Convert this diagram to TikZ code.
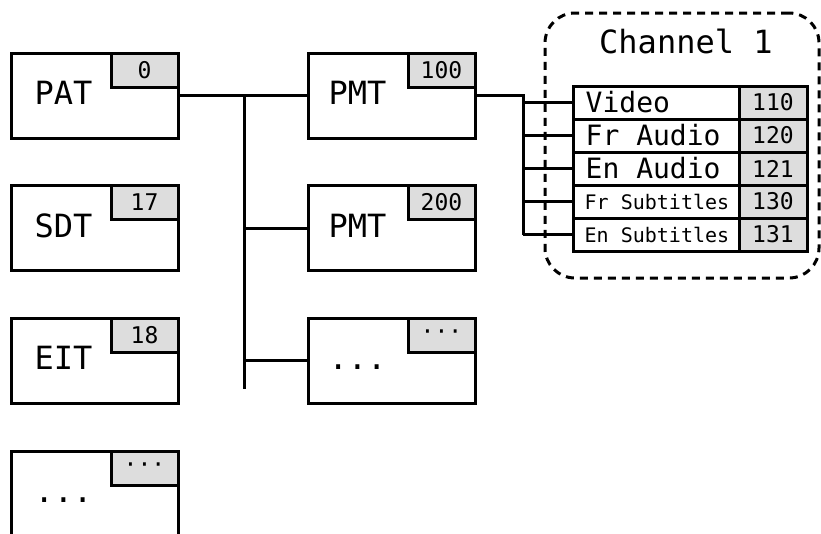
\documentclass[tikz,border=0pt]{standalone}
\usepackage{fontspec}
\newfontfamily\dm{DejaVu Sans Mono}
\usetikzlibrary{calc}
\definecolor{taggray}{HTML}{DDDDDD}
\begin{document}
\begin{tikzpicture}[x=1pt,y=-1pt,
 wire/.style={line width=3pt},
 tbox/.style={draw, line width=3pt, minimum width=167pt, minimum height=85pt, inner sep=0pt, fill=white},
 tag/.style={draw, line width=3pt, fill=taggray, minimum width=67pt, minimum height=34pt, inner sep=0pt, anchor=north east, font=\dm\fontsize{23}{23}\selectfont},
 lbl/.style={anchor=base west, inner sep=0pt, font=\dm\fontsize{32}{32}\selectfont},
 cell/.style={draw, line width=3pt, fill=white, minimum width=166pt, minimum height=33pt, inner sep=0pt},
 ncell/.style={draw, line width=3pt, fill=taggray, minimum width=68pt, minimum height=33pt, inner sep=0pt, font=\dm\fontsize{23}{23}\selectfont},
 big/.style={anchor=west, inner sep=0pt, font=\dm\fontsize{28}{28}\selectfont},
 small/.style={anchor=west, inner sep=0pt, font=\dm\fontsize{20}{20}\selectfont}
]
\useasboundingbox (0,0) rectangle (821,533);

% left column
\node[tbox] (pat) at (94.5,95.5) {};
\node[tbox] (sdt) at (94.5,228) {};
\node[tbox] (eit) at (94.5,360.5) {};
\node[tbox] (dl) at (94.5,493.5) {};
% middle column
\node[tbox] (pmta) at (391.5,95.5) {};
\node[tbox] (pmtb) at (391.5,228) {};
\node[tbox] (dm) at (391.5,360.5) {};

\node[tag] (patT) at (pat.north east) {0};
\node[tag] (sdtT) at (sdt.north east) {17};
\node[tag] (eitT) at (eit.north east) {18};
\node[tag] (dlT) at (dl.north east) {···};
\node[tag] (pmtaT) at (pmta.north east) {100};
\node[tag] (pmtbT) at (pmtb.north east) {200};
\node[tag] (dmT) at (dm.north east) {···};

\node[lbl] (patL) at ($(pat.north west)+(25,53)$) {PAT};
\node[lbl] (sdtL) at ($(sdt.north west)+(25,53)$) {SDT};
\node[lbl] (eitL) at ($(eit.north west)+(25,53)$) {EIT};
\node[lbl] (dlL) at ($(dl.north west)+(25,53)$) {...};
\node[lbl] (pmtaL) at ($(pmta.north west)+(22,53)$) {PMT};
\node[lbl] (pmtbL) at ($(pmtb.north west)+(22,53)$) {PMT};
\node[lbl] (dmL) at ($(dm.north west)+(22,53)$) {...};

% bus
\coordinate (bus) at (244,0);
\coordinate (busEnd) at (244,389);
\draw[wire] (pat.east) -- (pmta.west);
\draw[wire] (bus |- pat.east) -- (busEnd);
\draw[wire] (bus |- pmtb.west) -- (pmtb.west);
\draw[wire] (bus |- dm.west) -- (dm.west);

% table
\node[cell] (rv) at (656,102.5) {};
\node[cell] (rfa) at (656,135.5) {};
\node[cell] (rea) at (656,168.5) {};
\node[cell] (rfs) at (656,201.5) {};
\node[cell] (res) at (656,234.5) {};
\node[ncell] (nv) at (773,102.5) {110};
\node[ncell] (nfa) at (773,135.5) {120};
\node[ncell] (nea) at (773,168.5) {121};
\node[ncell] (nfs) at (773,201.5) {130};
\node[ncell] (nes) at (773,234.5) {131};
\node[big] (tv) at ($(rv.west)+(14,0)$) {Video};
\node[big] (tfa) at ($(rfa.west)+(14,0)$) {Fr Audio};
\node[big] (tea) at ($(rea.west)+(14,0)$) {En Audio};
\node[small] (tfs) at ($(rfs.west)+(13,0)$) {Fr Subtitles};
\node[small] (tes) at ($(res.west)+(13,0)$) {En Subtitles};

% wires to table
\coordinate (split) at (523,0);
\draw[wire] (pmta.east) -- (split |- pmta.east) -- (split |- res.west);
\foreach \r in {rv,rfa,rea,rfs,res} \draw[wire] (split |- \r.west) -- (\r.west);

% channel frame
\node[draw, line width=3pt, dash pattern=on 8pt off 6pt, rounded corners=30pt, minimum width=274pt, minimum height=265pt, inner sep=0pt] (chan) at (682,145.5) {};
\node[font=\dm\fontsize{32}{32}\selectfont, inner sep=0pt, anchor=base west] (chanL) at (599,53) {Channel 1};
\end{tikzpicture}
\end{document}
